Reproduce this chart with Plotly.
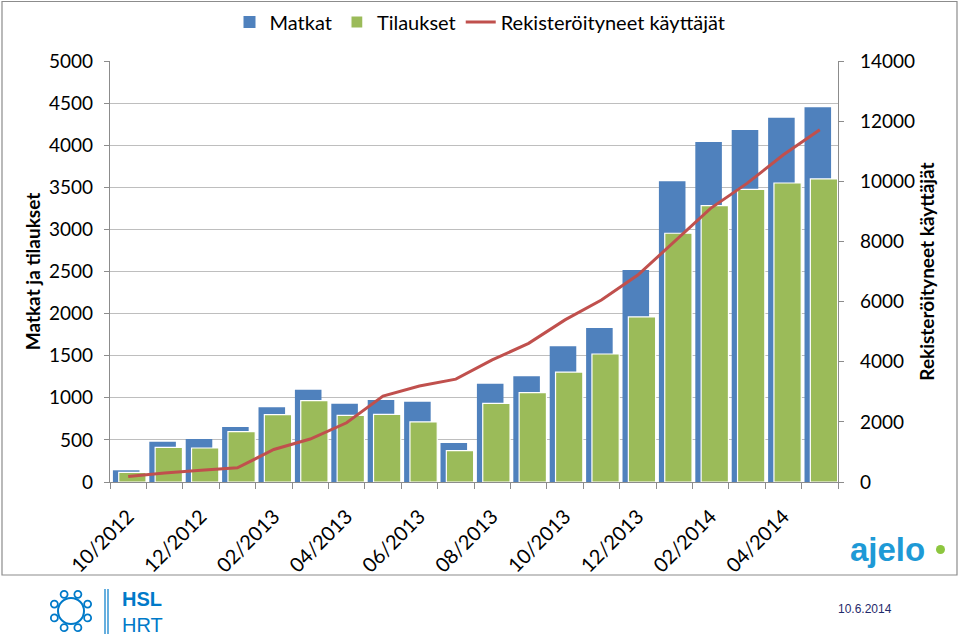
import math
import plotly.graph_objects as go

months = ["10/2012", "11/2012", "12/2012", "01/2013", "02/2013", "03/2013", "04/2013",
          "05/2013", "06/2013", "07/2013", "08/2013", "09/2013", "10/2013", "11/2013",
          "12/2013", "01/2014", "02/2014", "03/2014", "04/2014", "05/2014"]
matkat = [139, 479, 511, 653, 887, 1096, 930, 974, 954, 463,
          1168, 1255, 1612, 1829, 2518, 3571, 4038, 4181, 4327, 4450]
tilaukset = [115, 412, 404, 598, 800, 966, 792, 804, 713, 372,
             934, 1061, 1306, 1520, 1960, 2954, 3282, 3476, 3551, 3599]
kayttajat = [180, 300, 390, 470, 1080, 1430, 1970, 2860, 3190, 3420,
             4060, 4610, 5390, 6050, 6880, 7980, 9100, 9930, 10880, 11710]
left_ticks = list(range(0, 5001, 500))
right_ticks = list(range(0, 14001, 2000))

FONT = "Lato"
idx = list(range(len(months)))
label_idx = idx[::2]
label_text = [months[i] for i in label_idx]

fig = go.Figure()
fig.add_trace(go.Bar(x=idx, y=matkat, name="Matkat", width=0.73, offset=-0.42,
                     marker=dict(color="#4F81BD", line=dict(width=0))))
fig.add_trace(go.Bar(x=idx, y=tilaukset, name="Tilaukset", width=0.75, offset=-0.26,
                     marker=dict(color="#9BBB59", line=dict(color="white", width=1.2))))
fig.add_trace(go.Scatter(x=idx, y=kayttajat, name="Rekisteröityneet käyttäjät", yaxis="y2",
                         mode="lines", line=dict(color="#C0504D", width=3)))

# paper coordinate helpers (plot area 110..838 x, 61..482 y)
def px(x):
    return (x - 110) / 728.0

def py(y):
    return (482 - y) / 421.0

shapes = []
# outer frame
shapes.append(dict(type="rect", xref="paper", yref="paper", x0=px(2), x1=px(957),
                   y0=py(575), y1=py(1.5), line=dict(color="#8C8C8C", width=1.2),
                   fillcolor="rgba(0,0,0,0)", layer="below"))
# HSL logo: ring and nodes
cx, cy, r = 71, 611, 13
shapes.append(dict(type="circle", xref="paper", yref="paper", x0=px(cx - r), x1=px(cx + r),
                   y0=py(cy + r), y1=py(cy - r), line=dict(color="#007AC9", width=2)))
for k in range(8):
    a = math.pi / 8 + k * math.pi / 4
    nx = cx + (r + 5) * math.cos(a)
    ny = cy + (r + 5) * math.sin(a)
    shapes.append(dict(type="circle", xref="paper", yref="paper", x0=px(nx - 3.5), x1=px(nx + 3.5),
                       y0=py(ny + 3.5), y1=py(ny - 3.5), line=dict(color="#007AC9", width=1.8),
                       fillcolor="white"))
for lx in (105, 108):
    shapes.append(dict(type="line", xref="paper", yref="paper", x0=px(lx), x1=px(lx),
                       y0=py(634), y1=py(589), line=dict(color="#007AC9", width=1.2)))
# ajelo dot
shapes.append(dict(type="circle", xref="paper", yref="paper", x0=px(936), x1=px(945),
                   y0=py(554), y1=py(545), line=dict(width=0), fillcolor="#8DC63F"))

annotations = [
    dict(text="<b>HSL</b><br>HRT", x=px(120), y=py(612), xref="paper", yref="paper", xanchor="left",
         yanchor="middle", align="left", showarrow=False,
         font=dict(family="Liberation Sans", size=20, color="#007AC9")),
    dict(text="<b>ajelo</b>", x=px(848), y=py(549), xref="paper", yref="paper", xanchor="left",
         yanchor="middle", showarrow=False, font=dict(family="Liberation Sans", size=33, color="#1E9AD6")),
    dict(text="10.6.2014", x=px(836), y=py(609), xref="paper", yref="paper", xanchor="left",
         yanchor="middle", showarrow=False, font=dict(family="Liberation Sans", size=12, color="#1F2A6B")),
]

fig.update_layout(
    width=960, height=639,
    margin=dict(l=110, r=122, t=61, b=157, autoexpand=False),
    paper_bgcolor="white", plot_bgcolor="white",
    barmode="overlay",
    font=dict(family=FONT, size=19, color="#000000"),
    showlegend=True,
    legend=dict(orientation="h", xref="container", yref="container", x=0.5, xanchor="center",
                y=1 - 22 / 639, yanchor="middle", font=dict(family=FONT, size=20),
                itemwidth=30, tracegroupgap=0),
    xaxis=dict(range=[-0.5, 19.5], tickmode="array", tickvals=label_idx, ticktext=label_text,
               tickangle=-45, ticks="", showgrid=False, showline=True, linecolor="#8C8C8C",
               linewidth=1.2, zeroline=False, tickfont=dict(family=FONT, size=20), automargin=False,
               ticklabelstandoff=14,
               minor=dict(tickmode="linear", tick0=-0.5, dtick=1, ticks="outside", ticklen=6,
                          tickcolor="#8C8C8C", showgrid=False)),
    yaxis=dict(range=[0, 5000], tickmode="array", tickvals=left_ticks, showgrid=True,
               gridcolor="#BEBEBE", gridwidth=1.2, showline=True, linecolor="#8C8C8C",
               linewidth=1.2, zeroline=False, ticks="outside", ticklen=5, tickcolor="#8C8C8C",
               ticklabelstandoff=7, automargin=False,
               tickfont=dict(family=FONT, size=19),
               title=dict(text="<b>Matkat ja tilaukset</b>", font=dict(family=FONT, size=19), standoff=3)),
    yaxis2=dict(range=[0, 14000], tickmode="array", tickvals=right_ticks, tickformat="d",
                overlaying="y", side="right", automargin=False,
                showgrid=False, showline=True, linecolor="#8C8C8C", linewidth=1.2, zeroline=False,
                ticks="outside", ticklen=5, tickcolor="#8C8C8C", ticklabelstandoff=12,
                tickfont=dict(family=FONT, size=19),
                title=dict(text="<b>Rekisteröityneet käyttäjät</b>", font=dict(family=FONT, size=19), standoff=5)),
    shapes=shapes,
    annotations=annotations,
)

fig.write_html("out.html", config={"displayModeBar": False},
               post_script="document.body.style.margin='0px';")
